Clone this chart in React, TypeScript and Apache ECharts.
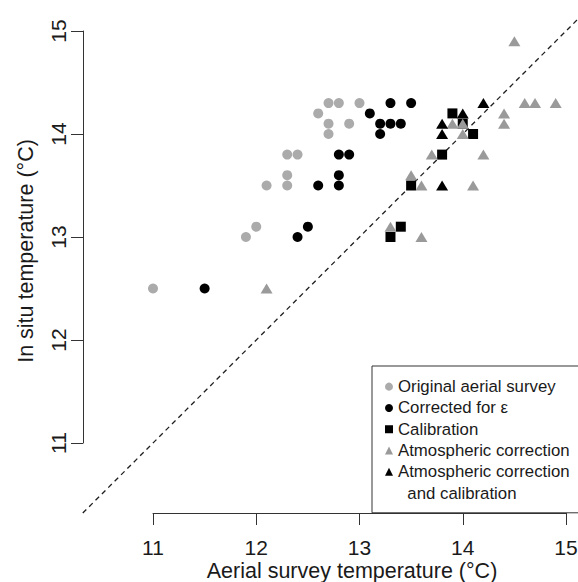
import React, { useEffect, useRef } from "react";
import * as echarts from "echarts";

// Aerial survey temperature (x) vs in situ temperature (y), °C
const originalSurvey: [number, number][] = [
  [11.0, 12.5], [11.9, 13.0], [12.0, 13.1], [12.1, 13.5], [12.3, 13.5],
  [12.3, 13.6], [12.3, 13.8], [12.4, 13.8], [12.6, 14.2], [12.7, 14.0],
  [12.7, 14.1], [12.9, 14.1], [12.7, 14.3], [12.8, 14.3], [13.0, 14.3],
];
const correctedEps: [number, number][] = [
  [11.5, 12.5], [12.4, 13.0], [12.5, 13.1], [12.6, 13.5], [12.8, 13.5],
  [12.8, 13.6], [12.8, 13.8], [12.9, 13.8], [13.1, 14.2], [13.2, 14.0],
  [13.2, 14.1], [13.3, 14.1], [13.4, 14.1], [13.3, 14.3], [13.5, 14.3],
];
const calibration: [number, number][] = [
  [13.3, 13.0], [13.4, 13.1], [13.5, 13.5], [13.8, 13.8], [13.9, 14.2],
  [14.0, 14.1], [14.1, 14.0],
];
const atmospheric: [number, number][] = [
  [12.1, 12.5], [13.3, 13.1], [13.6, 13.0], [13.5, 13.6], [13.6, 13.5],
  [13.7, 13.8], [14.1, 13.5], [14.2, 13.8], [13.9, 14.1], [14.0, 14.1],
  [14.0, 14.0], [14.4, 14.2], [14.4, 14.1], [14.6, 14.3], [14.7, 14.3],
  [14.9, 14.3], [14.5, 14.9],
];
const atmosphericCalibrated: [number, number][] = [
  [13.8, 13.5], [13.8, 14.0], [13.8, 14.1], [14.0, 14.2], [14.2, 14.3],
];
// 1:1 reference line spanning the plot region: [x0, y0, x1, y1]
const identityLine: number[][] = [[10.32, 10.32, 15.18, 15.18]];

const axisMin = 11;
const axisMax = 15;
const axisStep = 1;

const seriesNames = [
  "Original aerial survey",
  "Corrected for ε",
  "Calibration",
  "Atmospheric correction",
  "Atmospheric correction ",
  "  and calibration",
];

const FONT = "'Liberation Sans', Arial, Helvetica, sans-serif";
const INK = "#1a1a1a";
const LINE = "#333333";
const GREY_DOT = "#ababab";
const GREY_TRI = "#9a9a9a";

export default function App() {
  const ref = useRef<HTMLDivElement>(null);

  useEffect(() => {
    if (!ref.current) return;
    const chart = echarts.init(ref.current, null, { renderer: "svg" });
    const axisCommon = {
      type: "value" as const,
      min: axisMin,
      max: axisMax,
      interval: axisStep,
      offset: 70,
      splitLine: { show: false },
      axisLine: { show: true, lineStyle: { color: LINE, width: 1 } },
      axisTick: { show: true, length: 12, lineStyle: { color: LINE, width: 1 } },
      nameLocation: "middle" as const,
      nameMoveOverlap: false,
    };
    chart.setOption({
      animation: false,
      backgroundColor: "#ffffff",
      textStyle: { fontFamily: FONT },
      grid: {
        left: 153,
        right: 12,
        top: 31,
        bottom: 139,
        containLabel: false,
        outerBoundsMode: "none",
      },
      xAxis: {
        ...axisCommon,
        axisLabel: { fontSize: 21, lineHeight: 22, color: INK, margin: 23, fontFamily: FONT },
        name: "Aerial survey temperature (°C)",
        nameGap: 46,
        nameTextStyle: {
          fontSize: 21.5,
          lineHeight: 23,
          color: INK,
          fontFamily: FONT,
          padding: [0, 15, 0, 0],
        },
      },
      yAxis: {
        ...axisCommon,
        axisLabel: { fontSize: 21, color: INK, margin: 14, rotate: 90, fontFamily: FONT },
        name: "In situ temperature (°C)",
        nameRotate: 90,
        nameGap: 46,
        nameTextStyle: { fontSize: 21.5, color: INK, fontFamily: FONT, padding: [0, 28, 0, 0] },
      },
      legend: {
        orient: "vertical",
        left: 372,
        top: 366,
        padding: [10, 14, 9, 13],
        itemGap: 0,
        itemWidth: 8,
        itemHeight: 8,
        itemTextGap: 10,
        borderColor: LINE,
        borderWidth: 1,
        borderRadius: 0,
        selectedMode: false,
        textStyle: { fontSize: 16.8, lineHeight: 21.3, color: INK, fontFamily: FONT },
        data: [
          { name: seriesNames[0], icon: "circle" },
          { name: seriesNames[1], icon: "circle" },
          { name: seriesNames[2], icon: "rect" },
          { name: seriesNames[3], icon: "triangle" },
          { name: seriesNames[4], icon: "triangle" },
          { name: seriesNames[5], icon: "none" },
        ],
      },
      series: [
        {
          type: "custom",
          name: "1:1",
          data: identityLine,
          silent: true,
          clip: false,
          z: 1,
          encode: { x: [0, 2], y: [1, 3] },
          renderItem: (_params: any, api: any) => {
            const p0 = api.coord([api.value(0), api.value(1)]);
            const p1 = api.coord([api.value(2), api.value(3)]);
            return {
              type: "line",
              shape: { x1: p0[0], y1: p0[1], x2: p1[0], y2: p1[1] },
              style: { stroke: "#1f1f1f", lineWidth: 1.3, lineDash: [5, 4], fill: null },
            };
          },
        },
        {
          type: "scatter",
          name: seriesNames[0],
          data: originalSurvey,
          symbol: "circle",
          symbolSize: 10,
          clip: false,
          z: 2,
          itemStyle: { color: GREY_DOT, opacity: 1 },
        },
        {
          type: "scatter",
          name: seriesNames[1],
          data: correctedEps,
          symbol: "circle",
          symbolSize: 10,
          clip: false,
          z: 2,
          itemStyle: { color: "#000000", opacity: 1 },
        },
        {
          type: "scatter",
          name: seriesNames[2],
          data: calibration,
          symbol: "rect",
          symbolSize: 10,
          clip: false,
          z: 2,
          itemStyle: { color: "#000000", opacity: 1 },
        },
        {
          type: "scatter",
          name: seriesNames[3],
          data: atmospheric,
          symbol: "triangle",
          symbolSize: [12, 10],
          clip: false,
          z: 2,
          itemStyle: { color: GREY_TRI, opacity: 1 },
        },
        {
          type: "scatter",
          name: seriesNames[4],
          data: atmosphericCalibrated,
          symbol: "triangle",
          symbolSize: [12, 10],
          clip: false,
          z: 2,
          itemStyle: { color: "#000000", opacity: 1 },
        },
        {
          type: "scatter",
          name: seriesNames[5],
          data: [],
          itemStyle: { color: "#000000" },
        },
      ],
    });
    return () => chart.dispose();
  }, []);

  return (
    <div
      ref={ref}
      style={{ position: "absolute", left: 0, top: 0, width: 578, height: 582 }}
    />
  );
}
